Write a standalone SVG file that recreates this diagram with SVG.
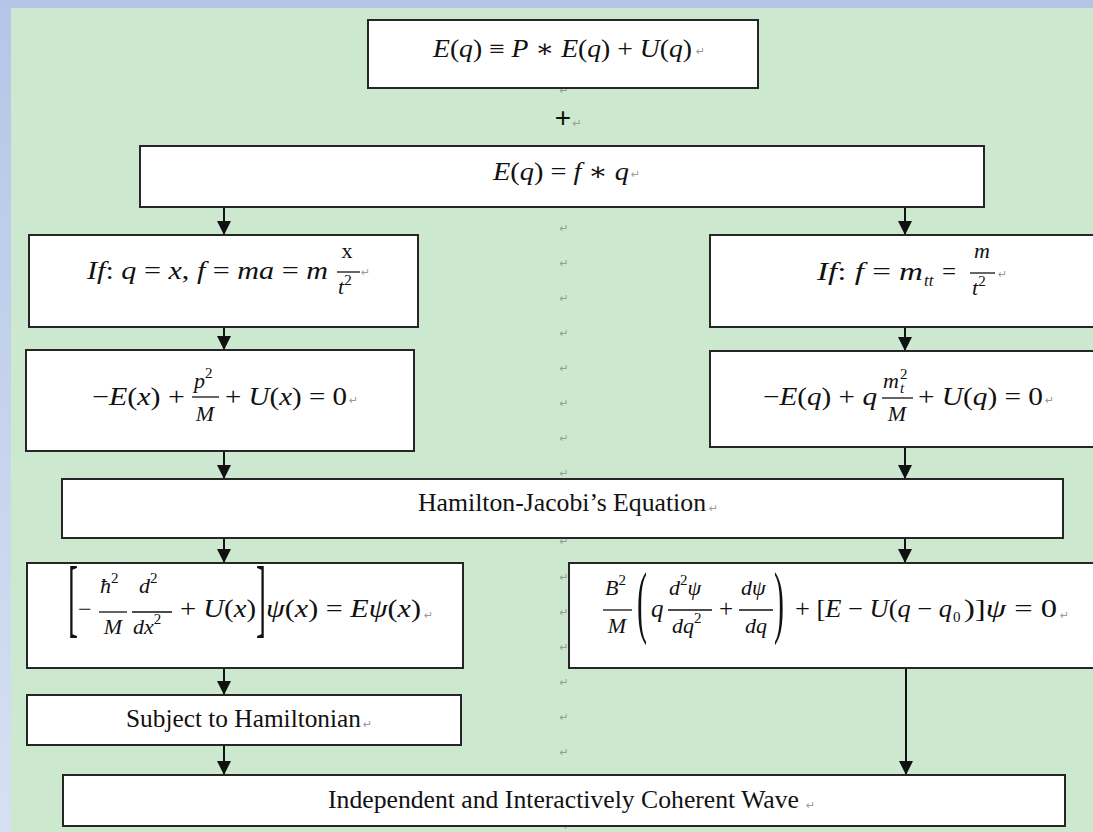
<svg xmlns="http://www.w3.org/2000/svg" width="1093" height="832" viewBox="0 0 1093 832">
<defs>
<linearGradient id="side" x1="0" y1="0" x2="0" y2="1">
<stop offset="0" stop-color="#b4c6e7"/>
<stop offset="1" stop-color="#d6e0f2"/>
</linearGradient>
<marker id="ah" markerUnits="userSpaceOnUse" markerWidth="14" markerHeight="14" refX="14" refY="7" orient="auto">
<path d="M0,0 L14,7 L0,14 z" fill="#111"/>
</marker>
<style>
.box{fill:#fff;stroke:#262626;stroke-width:2}
.m{font-family:"Liberation Serif","DejaVu Serif",serif;font-style:italic;font-size:24px;fill:#111}
.u{font-style:normal}
.sm{font-size:22px}
.sup{font-size:15px;font-style:normal}
.t{font-family:"Liberation Serif","Times New Roman",serif;font-size:25px;fill:#111}
.rm{font-family:"DejaVu Sans",sans-serif;font-size:11px;fill:#9a9a9a}
.bar{stroke:#111;stroke-width:1.3}
.big{font-family:"Liberation Serif",serif;font-size:30px;fill:#111}
#connectors line{stroke:#111;stroke-width:2;marker-end:url(#ah)}
</style>
</defs>
<rect x="0" y="0" width="1093" height="832" fill="url(#side)"/>
<rect x="0" y="0" width="1093" height="8" fill="#b4c6e7"/>
<rect x="11" y="8" width="1082" height="824" fill="#cce8cf"/>

<g id="return-marks" class="rm" text-anchor="middle">
<text x="564" y="94">↵</text>
<text x="577" y="127">↵</text>
<text x="564" y="232">↵</text>
<text x="564" y="267">↵</text>
<text x="564" y="302">↵</text>
<text x="564" y="337">↵</text>
<text x="564" y="372">↵</text>
<text x="564" y="407">↵</text>
<text x="564" y="442">↵</text>
<text x="564" y="477">↵</text>
<text x="564" y="545">↵</text>
<text x="564" y="581">↵</text>
<text x="564" y="616">↵</text>
<text x="564" y="651">↵</text>
<text x="564" y="686">↵</text>
<text x="564" y="721">↵</text>
<text x="564" y="756">↵</text>
<text x="568" y="830">↵</text>
</g>

<g id="connectors">
<line x1="224" y1="207" x2="224" y2="235"/>
<line x1="905" y1="207" x2="905" y2="235"/>
<line x1="224" y1="327" x2="224" y2="350"/>
<line x1="905" y1="327" x2="905" y2="351"/>
<line x1="224" y1="451" x2="224" y2="479"/>
<line x1="905" y1="447" x2="905" y2="479"/>
<line x1="224" y1="538" x2="224" y2="563"/>
<line x1="905" y1="538" x2="905" y2="563"/>
<line x1="224" y1="668" x2="224" y2="695"/>
<line x1="224" y1="745" x2="224" y2="775"/>
<line x1="906" y1="668" x2="906" y2="775"/>
</g>

<g id="n-top">
<rect class="box" x="368" y="20" width="390" height="68"/>
<text class="m" x="433" y="57" style="font-size:25px" textLength="259" lengthAdjust="spacingAndGlyphs">E<tspan class="u">(</tspan>q<tspan class="u">) ≡ </tspan>P<tspan class="u"> ∗ </tspan>E<tspan class="u">(</tspan>q<tspan class="u">) + </tspan>U<tspan class="u">(</tspan>q<tspan class="u">)</tspan></text>
<text class="rm" x="696" y="55">↵</text>
</g>

<g id="n-plus">
<text x="563" y="127" text-anchor="middle" style="font-family:'Liberation Sans',sans-serif;font-size:28px;fill:#111">+</text>
</g>

<g id="n-eq2">
<rect class="box" x="140" y="146" width="844" height="61"/>
<text class="m" x="493" y="180" style="font-size:25px" textLength="136" lengthAdjust="spacingAndGlyphs">E<tspan class="u">(</tspan>q<tspan class="u">) = </tspan>f<tspan class="u"> ∗ </tspan>q</text>
<text class="rm" x="631" y="178">↵</text>
</g>

<g id="n-left1">
<rect class="box" x="29" y="235" width="389" height="92"/>
<text class="m" x="87" y="279" style="font-size:25px" textLength="241" lengthAdjust="spacingAndGlyphs">If<tspan class="u">: </tspan>q<tspan class="u"> = </tspan>x<tspan class="u">, </tspan>f<tspan class="u"> = </tspan>ma<tspan class="u"> = </tspan>m</text>
<text class="m u sm" x="347" y="258" text-anchor="middle">x</text>
<line class="bar" x1="337" y1="272" x2="360" y2="272"/>
<text class="m sm" x="338" y="294">t<tspan class="sup" dy="-9">2</tspan></text>
<text class="rm" x="361" y="276">↵</text>
</g>

<g id="n-left2">
<rect class="box" x="26" y="350" width="388" height="101"/>
<text class="m" x="92" y="405" style="font-size:25px" textLength="93" lengthAdjust="spacingAndGlyphs"><tspan class="u">−</tspan>E<tspan class="u">(</tspan>x<tspan class="u">) +</tspan></text>
<text class="m sm" x="194" y="388">p<tspan class="sup" dy="-10">2</tspan></text>
<line class="bar" x1="192" y1="397" x2="219" y2="397"/>
<text class="m sm" x="205" y="421" text-anchor="middle">M</text>
<text class="m" x="225" y="405" style="font-size:25px" textLength="122" lengthAdjust="spacingAndGlyphs"><tspan class="u">+ </tspan>U<tspan class="u">(</tspan>x<tspan class="u">) = 0</tspan></text>
<text class="rm" x="349" y="404">↵</text>
</g>

<g id="n-right1">
<rect class="box" x="710" y="235" width="400" height="92"/>
<text class="m" x="817" y="280" style="font-size:25px" textLength="106" lengthAdjust="spacingAndGlyphs">If<tspan class="u">: </tspan>f<tspan class="u"> = </tspan>m</text>
<text class="m" x="924" y="286" style="font-size:17px">tt</text>
<text class="m u" x="942" y="280" style="font-size:25px">=</text>
<text class="m sm" x="982" y="258" text-anchor="middle">m</text>
<line class="bar" x1="970" y1="273" x2="995" y2="273"/>
<text class="m sm" x="972" y="295">t<tspan class="sup" dy="-9">2</tspan></text>
<text class="rm" x="998" y="278">↵</text>
</g>

<g id="n-right2">
<rect class="box" x="710" y="351" width="400" height="96"/>
<text class="m" x="763" y="405" style="font-size:25px" textLength="114" lengthAdjust="spacingAndGlyphs"><tspan class="u">−</tspan>E<tspan class="u">(</tspan>q<tspan class="u">) + </tspan>q</text>
<text class="m sm" x="883" y="388">m</text>
<text class="sup m" x="900" y="379">2</text>
<text class="m" x="900" y="393" style="font-size:15px">t</text>
<line class="bar" x1="882" y1="398" x2="913" y2="398"/>
<text class="m sm" x="897" y="421" text-anchor="middle">M</text>
<text class="m" x="918" y="405" style="font-size:25px" textLength="125" lengthAdjust="spacingAndGlyphs"><tspan class="u">+ </tspan>U<tspan class="u">(</tspan>q<tspan class="u">) = 0</tspan></text>
<text class="rm" x="1045" y="404">↵</text>
</g>

<g id="n-hj">
<rect class="box" x="62" y="479" width="1001" height="59"/>
<text class="t" x="418" y="511" textLength="288" lengthAdjust="spacingAndGlyphs">Hamilton-Jacobi’s Equation</text>
<text class="rm" x="709" y="512">↵</text>
</g>

<g id="n-left3">
<rect class="box" x="27" y="563" width="436" height="105"/>
<text class="big" transform="translate(68,626) scale(1,2.9)" style="font-weight:300">[</text>
<text class="m u" x="78" y="617">−</text>
<text class="m sm" x="100" y="593">ħ<tspan class="sup" dy="-10">2</tspan></text>
<line class="bar" x1="99" y1="612" x2="127" y2="612"/>
<text class="m sm" x="113" y="634" text-anchor="middle">M</text>
<text class="m sm" x="139" y="593">d<tspan class="sup" dy="-10">2</tspan></text>
<line class="bar" x1="132" y1="612" x2="172" y2="612"/>
<text class="m sm" x="133" y="634">dx<tspan class="sup" dy="-10">2</tspan></text>
<text class="m" x="180" y="617" style="font-size:25px" textLength="76" lengthAdjust="spacingAndGlyphs"><tspan class="u">+ </tspan>U<tspan class="u">(</tspan>x<tspan class="u">)</tspan></text>
<text class="big" transform="translate(256,626) scale(1,2.9)">]</text>
<text class="m" x="266" y="617" style="font-size:25px" textLength="155" lengthAdjust="spacingAndGlyphs">ψ<tspan class="u">(</tspan>x<tspan class="u">) = </tspan>Eψ<tspan class="u">(</tspan>x<tspan class="u">)</tspan></text>
<text class="rm" x="424" y="619">↵</text>
</g>

<g id="n-right3">
<rect class="box" x="569" y="563" width="540" height="105"/>
<text class="m sm" x="605" y="595">B<tspan class="sup" dy="-10">2</tspan></text>
<line class="bar" x1="603" y1="610" x2="632" y2="610"/>
<text class="m sm" x="617" y="633" text-anchor="middle">M</text>
<text class="big" transform="translate(637,628) scale(1,2.7)">(</text>
<text class="m" x="651" y="617" style="font-size:25px">q</text>
<text class="m sm" x="669" y="595">d<tspan class="sup" dy="-10">2</tspan><tspan dy="10">ψ</tspan></text>
<line class="bar" x1="668" y1="610" x2="712" y2="610"/>
<text class="m sm" x="672" y="633">dq<tspan class="sup" dy="-10">2</tspan></text>
<text class="m u" x="719" y="617" style="font-size:25px">+</text>
<text class="m sm" x="741" y="595">dψ</text>
<line class="bar" x1="739" y1="610" x2="773" y2="610"/>
<text class="m sm" x="745" y="633">dq</text>
<text class="big" transform="translate(774,628) scale(1,2.7)">)</text>
<text class="m" x="795" y="617" style="font-size:25px" textLength="157" lengthAdjust="spacingAndGlyphs"><tspan class="u">+ [</tspan>E<tspan class="u"> − </tspan>U<tspan class="u">(</tspan>q<tspan class="u"> − </tspan>q</text>
<text class="m u" x="953" y="622" style="font-size:15px">0</text>
<text class="m" x="964" y="617" style="font-size:25px" textLength="93" lengthAdjust="spacingAndGlyphs"><tspan class="u">)]</tspan>ψ<tspan class="u"> = 0</tspan></text>
<text class="rm" x="1060" y="619">↵</text>
</g>

<g id="n-subject">
<rect class="box" x="27" y="695" width="434" height="50"/>
<text class="t" x="126" y="727" textLength="235" lengthAdjust="spacingAndGlyphs">Subject to Hamiltonian</text>
<text class="rm" x="363" y="728">↵</text>
</g>

<g id="n-wave">
<rect class="box" x="63" y="775" width="1002" height="51"/>
<text class="t" x="328" y="808" textLength="471" lengthAdjust="spacingAndGlyphs">Independent and Interactively Coherent Wave</text>
<text class="rm" x="806" y="809">↵</text>
</g>
</svg>
